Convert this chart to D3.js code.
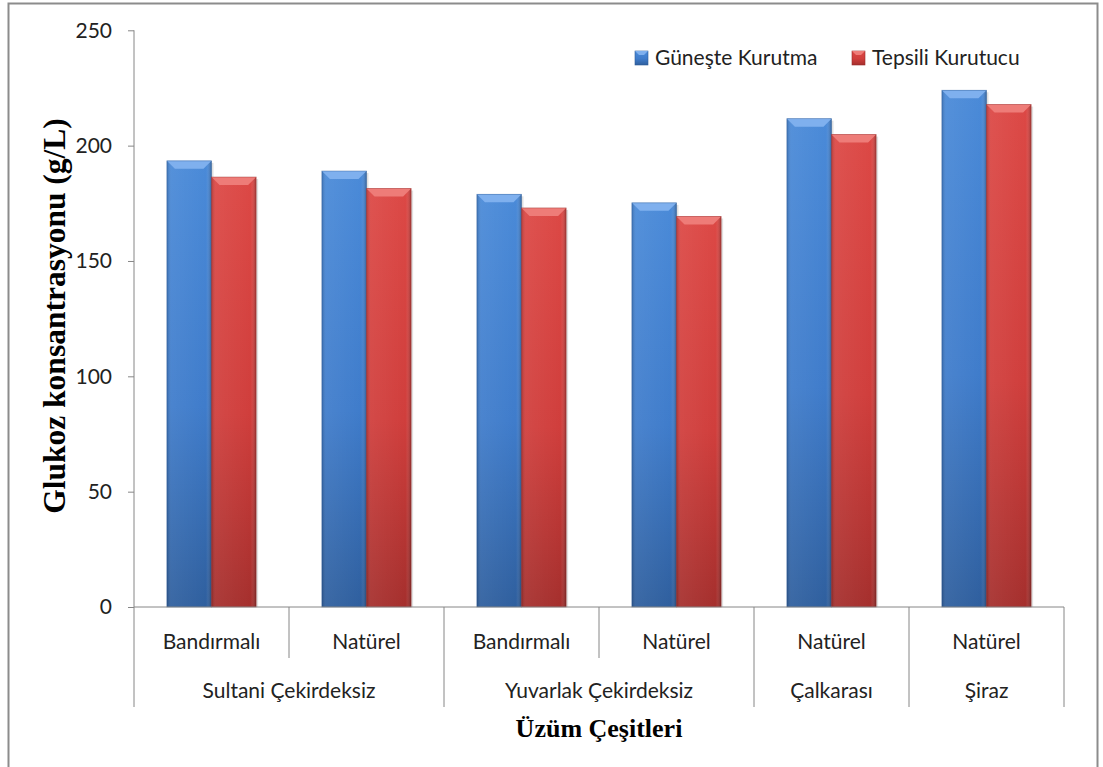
<!DOCTYPE html>
<html>
<head>
<meta charset="utf-8">
<script src="https://cdn.jsdelivr.net/npm/d3@7"></script>
<style>
  body { margin: 0; background: #fff; }
  svg { display: block; }
</style>
</head>
<body>
<script>
// chart data
const categories = ["Bandırmalı", "Natürel", "Bandırmalı", "Natürel", "Natürel", "Natürel"];
const varieties = ["Sultani Çekirdeksiz", "Sultani Çekirdeksiz", "Yuvarlak Çekirdeksiz", "Yuvarlak Çekirdeksiz", "Çalkarası", "Şiraz"];
const seriesNames = ["Güneşte Kurutma", "Tepsili Kurutucu"];
const gunesValues = [193.4, 189.0, 178.9, 175.2, 211.7, 224.0];
const tepsiliValues = [186.4, 181.4, 173.0, 169.3, 204.8, 217.8];
const yTicks = [0, 50, 100, 150, 200, 250];
// ----------

const w = 1103;
const h = 767;
const plot = { l: 134, r: 1064, t: 30.3, b: 607 };
const axisCol = "#868686";
const sansFont = "Lato, 'Open Sans', sans-serif";
const serifFont = "'Liberation Serif', 'DejaVu Serif', serif";
// ----------

const svg = d3.select("body")
  .append("svg")
  .attr("width", w)
  .attr("height", h);

// gradients for the bevelled bars
const defs = svg.append("defs");
const palettes = {
  blue: { top: "#4a8ad8", mid: "#3f7ccb", bot: "#2f5f9e", bevel: "#7fb0ee", edge: "#2c5a96" },
  red: { top: "#dc4845", mid: "#d03e3c", bot: "#a52f2d", bevel: "#ee7c78", edge: "#962a28" },
};
Object.keys(palettes).forEach((k) => {
  const p = palettes[k];
  const g = defs.append("linearGradient")
    .attr("id", `fill-${k}`)
    .attr("x1", 0).attr("y1", 0).attr("x2", 0).attr("y2", 1);
  g.append("stop").attr("offset", "0%").attr("stop-color", p.top);
  g.append("stop").attr("offset", "55%").attr("stop-color", p.mid);
  g.append("stop").attr("offset", "100%").attr("stop-color", p.bot);
});
const side = defs.append("linearGradient")
  .attr("id", "side-shade")
  .attr("x1", 0).attr("y1", 0).attr("x2", 1).attr("y2", 0);
side.append("stop").attr("offset", "0%").attr("stop-color", "#000").attr("stop-opacity", 0.18);
side.append("stop").attr("offset", "10%").attr("stop-color", "#fff").attr("stop-opacity", 0.06);
side.append("stop").attr("offset", "88%").attr("stop-color", "#fff").attr("stop-opacity", 0);
side.append("stop").attr("offset", "100%").attr("stop-color", "#000").attr("stop-opacity", 0.28);
// ----------

// outer frame
svg.append("rect")
  .attr("x", 8.5).attr("y", 3.5)
  .attr("width", 1089).attr("height", 780)
  .attr("fill", "none")
  .attr("stroke", "#8c8c8c")
  .attr("stroke-width", 2);

// scales
const x0 = d3.scaleBand()
  .domain(d3.range(categories.length))
  .range([plot.l, plot.r]);
const x1 = d3.scaleBand()
  .domain(seriesNames)
  .range([x0.bandwidth() * 0.212, x0.bandwidth() * 0.788]);
const y = d3.scaleLinear()
  .domain([0, 250])
  .range([plot.b, plot.t]);
// ----------

// y axis
const yAxis = svg.append("g")
  .attr("transform", `translate(${plot.l}, 0)`)
  .call(d3.axisLeft(y).tickValues(yTicks).tickSize(6).tickPadding(16));
yAxis.select(".domain").attr("stroke", axisCol).attr("d", `M0,${plot.t}V${plot.b + 100}`);
yAxis.selectAll(".tick line").attr("stroke", axisCol);
yAxis.selectAll(".tick text")
  .attr("font-family", sansFont)
  .attr("font-size", 21)
  .attr("fill", "#222");
// ----------

// bars
const rows = categories.map((c, i) => ({ i, vals: [gunesValues[i], tepsiliValues[i]] }));
const groups = svg.append("g")
  .selectAll("g")
  .data(rows)
  .enter()
  .append("g")
  .attr("transform", (d) => `translate(${x0(d.i)}, 0)`);

const bars = groups.selectAll("g.bar")
  .data((d) => d.vals.map((v, s) => ({ v, s, name: seriesNames[s], pal: s === 0 ? "blue" : "red" })))
  .enter()
  .append("g")
  .attr("class", "bar");

const bw = x1.bandwidth();
const bev = 8;

// shadow
bars.append("rect")
  .attr("x", (d) => x1(d.name) + 2)
  .attr("y", (d) => y(d.v) + 2)
  .attr("width", bw)
  .attr("height", (d) => y(0) - y(d.v) - 2)
  .attr("fill", "#000")
  .attr("opacity", 0.12);

bars.append("rect")
  .attr("x", (d) => x1(d.name))
  .attr("y", (d) => y(d.v))
  .attr("width", bw)
  .attr("height", (d) => y(0) - y(d.v))
  .attr("fill", (d) => `url(#fill-${d.pal})`);

bars.append("rect")
  .attr("x", (d) => x1(d.name))
  .attr("y", (d) => y(d.v))
  .attr("width", bw)
  .attr("height", (d) => y(0) - y(d.v))
  .attr("fill", "url(#side-shade)");

// top bevel
bars.append("path")
  .attr("d", (d) => {
    const xa = x1(d.name);
    const ya = y(d.v);
    return `M${xa},${ya}H${xa + bw}L${xa + bw - bev},${ya + bev}H${xa + bev}Z`;
  })
  .attr("fill", (d) => palettes[d.pal].bevel);
bars.append("rect")
  .attr("x", (d) => x1(d.name))
  .attr("y", (d) => y(d.v))
  .attr("width", bw)
  .attr("height", (d) => y(0) - y(d.v))
  .attr("fill", "none")
  .attr("stroke", (d) => palettes[d.pal].edge)
  .attr("stroke-opacity", 0.5)
  .attr("stroke-width", 0.8);
// ----------

// x axis, two levels of labels
const xAxis = svg.append("g").attr("class", "x-axis");
xAxis.append("line")
  .attr("x1", plot.l).attr("x2", plot.r)
  .attr("y1", plot.b).attr("y2", plot.b)
  .attr("stroke", axisCol);

// group spans for the variety row
const spans = [];
varieties.forEach((v, i) => {
  if (spans.length && spans[spans.length - 1].name === v) spans[spans.length - 1].end = i;
  else spans.push({ name: v, start: i, end: i });
});
const spanEdges = new Set([0, categories.length]);
spans.forEach((s) => spanEdges.add(s.start));

d3.range(categories.length + 1).forEach((i) => {
  const xx = i < categories.length ? x0(i) : plot.r;
  const long = spanEdges.has(i);
  if (i === 0) return;
  xAxis.append("line")
    .attr("x1", xx).attr("x2", xx)
    .attr("y1", plot.b).attr("y2", long ? plot.b + 100 : plot.b + 51)
    .attr("stroke", axisCol);
});

xAxis.selectAll("text.cat")
  .data(categories)
  .enter()
  .append("text")
  .attr("class", "cat")
  .attr("x", (d, i) => x0(i) + x0.bandwidth() / 2)
  .attr("y", plot.b + 42)
  .attr("text-anchor", "middle")
  .attr("font-family", sansFont)
  .attr("font-size", 21)
  .attr("fill", "#222")
  .text((d) => d);

xAxis.selectAll("text.var")
  .data(spans)
  .enter()
  .append("text")
  .attr("class", "var")
  .attr("x", (d) => (x0(d.start) + x0(d.end) + x0.bandwidth()) / 2)
  .attr("y", plot.b + 91)
  .attr("text-anchor", "middle")
  .attr("font-family", sansFont)
  .attr("font-size", 21)
  .attr("fill", "#222")
  .text((d) => d.name);
// ----------

// axis titles
svg.append("text")
  .attr("x", (plot.l + plot.r) / 2)
  .attr("y", 737)
  .attr("text-anchor", "middle")
  .attr("font-family", serifFont)
  .attr("font-weight", "bold")
  .attr("font-size", 26)
  .attr("fill", "#000")
  .text("Üzüm Çeşitleri");

svg.append("text")
  .attr("transform", `translate(65, 316) rotate(-90)`)
  .attr("text-anchor", "middle")
  .attr("font-family", serifFont)
  .attr("font-weight", "bold")
  .attr("font-size", 31.5)
  .attr("fill", "#000")
  .text("Glukoz konsantrasyonu (g/L)");
// ----------

// legend
const legendX = [635, 852];
const legend = svg.append("g").attr("class", "legend");
const items = legend.selectAll("g")
  .data(seriesNames)
  .enter()
  .append("g")
  .attr("transform", (d, i) => `translate(${legendX[i]}, 51)`);
items.append("rect")
  .attr("width", 13).attr("height", 14)
  .attr("fill", (d, i) => `url(#fill-${i === 0 ? "blue" : "red"})`)
  .attr("stroke", (d, i) => palettes[i === 0 ? "blue" : "red"].edge)
  .attr("stroke-width", 0.6);
items.append("path")
  .attr("d", "M0,0H13L9,4H4Z")
  .attr("fill", (d, i) => palettes[i === 0 ? "blue" : "red"].bevel);
items.append("text")
  .attr("x", 20)
  .attr("y", 14)
  .attr("font-family", sansFont)
  .attr("font-size", 21)
  .attr("fill", "#222")
  .text((d) => d);
</script>
</body>
</html>
